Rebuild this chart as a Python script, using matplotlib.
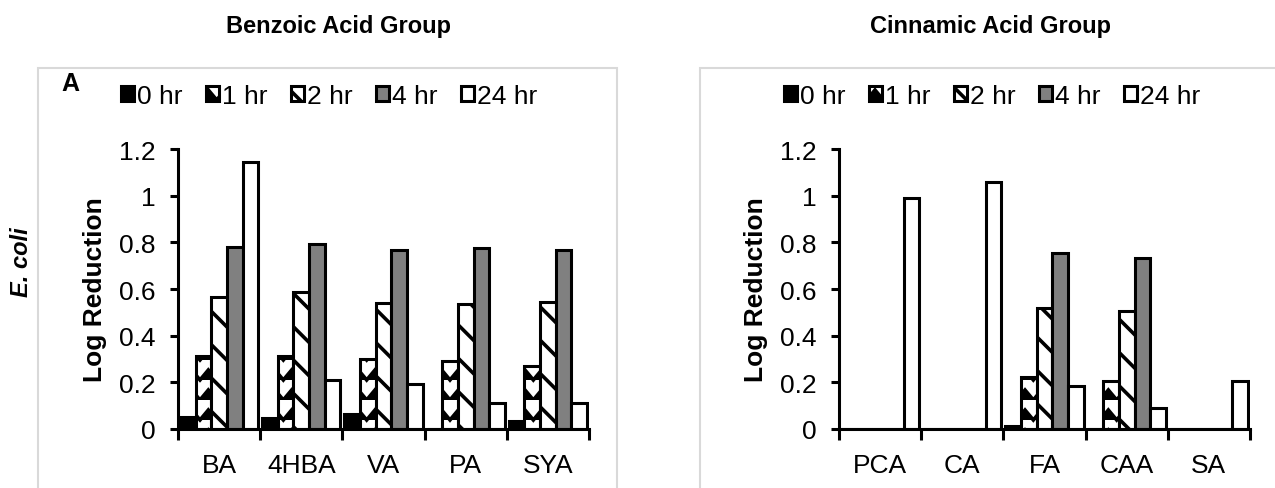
import warnings
import numpy as np
import matplotlib
matplotlib.use('Agg')
import matplotlib.pyplot as plt
from matplotlib import hatch as mhatch
from matplotlib.path import Path
from matplotlib.patches import Rectangle
from matplotlib.ticker import FuncFormatter

warnings.filterwarnings('ignore')

hours = ['0 hr', '1 hr', '2 hr', '4 hr', '24 hr']

benzoic = ['BA', '4HBA', 'VA', 'PA', 'SYA']
benz_0hr = [0.053, 0.046, 0.063, 0.0, 0.035]
benz_1hr = [0.315, 0.311, 0.301, 0.29, 0.27]
benz_2hr = [0.567, 0.588, 0.541, 0.535, 0.546]
benz_4hr = [0.78, 0.793, 0.768, 0.775, 0.768]
benz_24hr = [1.145, 0.211, 0.193, 0.113, 0.11]

cinnamic = ['PCA', 'CA', 'FA', 'CAA', 'SA']
cinn_0hr = [0.0, 0.0, 0.015, 0.0, 0.0]
cinn_1hr = [0.0, 0.0, 0.224, 0.205, 0.0]
cinn_2hr = [0.0, 0.0, 0.519, 0.505, 0.0]
cinn_4hr = [0.0, 0.0, 0.754, 0.735, 0.0]
cinn_24hr = [0.988, 1.06, 0.186, 0.088, 0.205]

yticks = [0, 0.2, 0.4, 0.6, 0.8, 1.0, 1.2]


# zigzag fill like the excel pattern, used with hatch='z'
class ZigZagHatch(mhatch.HatchPatternBase):
    def __init__(self, hatch, density):
        self.num_rows = int(hatch.count('z') * density) * 5 // 6
        self.num_vertices = self.num_rows * 13

    def set_vertices_and_codes(self, vertices, codes):
        if self.num_rows == 0:
            return
        dy = 1.0 / self.num_rows
        xs = np.linspace(0, 1, 13)
        amp = np.where(np.arange(13) % 2 == 1, dy * 0.5, 0.0)
        for r in range(self.num_rows):
            sl = slice(r * 13, (r + 1) * 13)
            vertices[sl, 0] = xs
            vertices[sl, 1] = r * dy + amp
            codes[sl] = Path.LINETO
            codes[r * 13] = Path.MOVETO


mhatch._hatch_types.append(ZigZagHatch)

plt.rcParams['font.family'] = ['Liberation Sans', 'DejaVu Sans']
plt.rcParams['hatch.linewidth'] = 2.6
plt.rcParams['hatch.color'] = 'black'

W, H = 1275, 489
fig = plt.figure(figsize=(W / 100, H / 100), dpi=100)

faces = ['black', 'white', 'white', '#808080', 'white']
hatches = [None, 'z', '\\', None, None]


def draw_panel(left_px, cats, series):
    ax = fig.add_axes([left_px / W, (H - 430) / H, 411 / W, 280 / H])
    x = np.arange(len(cats))
    w = 0.19
    for i, vals in enumerate(series):
        ax.bar(x + (i - 2) * w, vals, w, color=faces[i], edgecolor='black',
               linewidth=2.2, hatch=hatches[i], label=hours[i], zorder=2)
    ax.set_xlim(-0.5, 4.5)
    ax.set_ylim(0, 1.2)
    ax.set_yticks(yticks)
    ax.yaxis.set_major_formatter(FuncFormatter(lambda v, p: f'{v:g}'))
    ax.set_xticks(x)
    ax.set_xticklabels(cats)
    ax.set_xticks(np.arange(-0.5, 5, 1), minor=True)
    for s in ['top', 'right']:
        ax.spines[s].set_visible(False)
    for s in ['left', 'bottom']:
        ax.spines[s].set_linewidth(2.2)
        ax.spines[s].set_zorder(3)
    ax.tick_params(axis='y', length=6, width=2.2, labelsize=19, pad=10)
    ax.tick_params(axis='x', which='major', length=0, labelsize=19, pad=17)
    ax.tick_params(axis='x', which='minor', length=8, width=2.2)
    ax.set_ylabel('Log Reduction', fontsize=19, fontweight='bold', labelpad=9)
    ax.patch.set_alpha(0)
    return ax


ax1 = draw_panel(178, benzoic, [benz_0hr, benz_1hr, benz_2hr, benz_4hr, benz_24hr])
ax2 = draw_panel(839, cinnamic, [cinn_0hr, cinn_1hr, cinn_2hr, cinn_4hr, cinn_24hr])

for ax, cx in [(ax1, 329), (ax2, 992)]:
    ax.legend(loc='center', bbox_to_anchor=(cx / W, 1 - 97 / H),
              bbox_transform=fig.transFigure, ncol=5, frameon=False,
              fontsize=19, handlelength=0.5, handleheight=0.5,
              handletextpad=0.1, columnspacing=0.9, borderpad=0)

# light grey chart frames
fig.add_artist(Rectangle((38 / W, -0.2), (617 - 38) / W, (H - 69) / H + 0.2,
                         transform=fig.transFigure, fill=False,
                         edgecolor='#d9d9d9', linewidth=1.5, zorder=0))
fig.add_artist(Rectangle((700 / W, -0.2), 0.6, (H - 69) / H + 0.2,
                         transform=fig.transFigure, fill=False,
                         edgecolor='#d9d9d9', linewidth=1.5, zorder=0))

fig.text(338 / W, 1 - 27 / H, 'Benzoic Acid Group', ha='center', va='center',
         fontsize=17, fontweight='bold')
fig.text(991 / W, 1 - 27 / H, 'Cinnamic Acid Group', ha='center', va='center',
         fontsize=17, fontweight='bold')
fig.text(70 / W, 1 - 84 / H, 'A', ha='center', va='center',
         fontsize=18, fontweight='bold')
fig.text(22 / W, 1 - 262 / H, 'E. coli', ha='center', va='center', rotation=90,
         fontsize=17, fontweight='bold', fontstyle='italic')

fig.savefig('out.png', dpi=100)
